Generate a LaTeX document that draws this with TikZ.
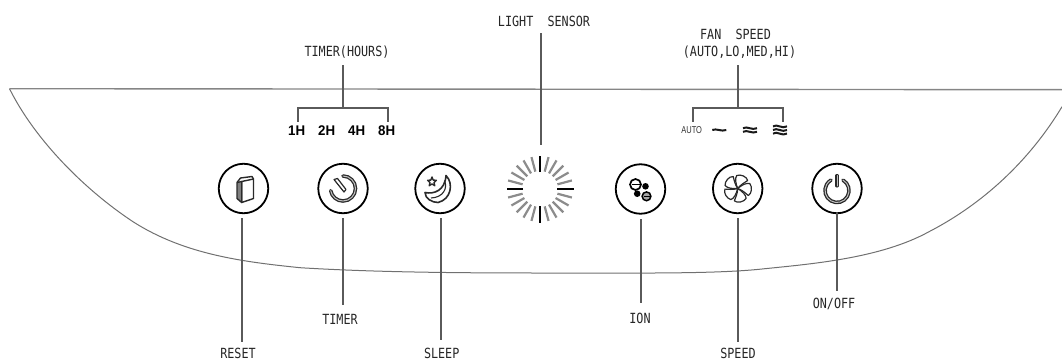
\documentclass[tikz,border=0pt]{standalone}
\usepackage{fontspec}
\setmainfont{Liberation Sans}
\newfontfamily\labelfont[FakeStretch=0.84]{DejaVu Sans Mono}
\newfontfamily\hourfont[FakeStretch=0.95]{Liberation Sans}
\newfontfamily\autofont[FakeStretch=0.75]{Liberation Sans}
\usetikzlibrary{calc}
\definecolor{leadgray}{HTML}{5A5A5A}
\definecolor{panelgray}{HTML}{707070}
\definecolor{icongray}{HTML}{2A2A2A}
\tikzset{
  panelline/.style={draw=panelgray,line width=1pt},
  topline/.style={draw=panelgray!85,line width=1.4pt},
  leader/.style={draw=leadgray,line width=1.5pt},
  btn/.style={circle,draw=black,line width=1.8pt,minimum size=49.5pt,inner sep=0pt,outer sep=0pt},
  lbl/.style={inner sep=0pt,outer sep=0pt,text=black!85,font=\labelfont\fontsize{14}{16}\selectfont},
  hour/.style={inner sep=0pt,outer sep=0pt,text=black,font=\hourfont\bfseries\fontsize{14}{16}\selectfont},
  icon/.style={draw=icongray,line width=1.2pt,line join=round},
  dbl/.style={draw=icongray,line width=1.3pt,double=black!25,double distance=1pt,line cap=round},
  wave/.style={draw=black!90,line width=2pt},
  ray/.style={draw=black!45,line width=2.2pt},
  mainray/.style={draw=black,line width=1.8pt}
}
\begin{document}
\begin{tikzpicture}[x=1pt,y=-1pt]
\useasboundingbox (0,0) rectangle (1062,361);
% panel
\draw[topline] (1062,89.7) -- (9.5,88.7);
\draw[panelline,line join=round] (9.5,88.7)
  .. controls (35,140) and (85,190) .. (133,221.7)
  .. controls (185,255) and (245,262) .. (300,267.7)
  .. controls (370,272) and (450,273) .. (540,273)
  .. controls (640,273) and (715,274) .. (762,269)
  .. controls (810,264) and (880,258.7) .. (929,231.7)
  .. controls (975,208) and (1025,168) .. (1062,106.7);
% buttons
\node[btn] (reset) at (243.5,188.5) {};
\node[btn] (timer) at (343,188.5) {};
\node[btn] (sleep) at (440,188.5) {};
\node[btn] (ion) at (640.5,189) {};
\node[btn] (speed) at (737.7,188.5) {};
\node[btn] (onoff) at (837,188.5) {};
% sun
\coordinate (sun) at (540,189);
\foreach \a in {15,30,45,60,75,105,120,135,150,165,195,210,225,240,255,285,300,315,330,345}
  \draw[ray] ($(sun)+(\a:18pt)$) -- ($(sun)+(\a:33pt)$);
\foreach \a in {0,90,180,270}
  \draw[mainray] ($(sun)+(\a:17pt)$) -- ($(sun)+(\a:33.5pt)$);
% top labels
\node[lbl] (lighttxt) at (544,21.5) {LIGHT~~SENSOR};
\node[lbl] (fantxt) at (735.5,34) {FAN~~SPEED};
\node[lbl] (fanmodes) at (739.5,52.5) {(AUTO,LO,MED,HI)};
\node[lbl] (timerhours) at (347,52.5) {TIMER(HOURS)};
% hours
\node[hour] (h1) at (296.7,130.7) {1H};
\node[hour] (h2) at (326.7,130.7) {2H};
\node[hour] (h4) at (356.7,130.7) {4H};
\node[hour] (h8) at (386.7,130.7) {8H};
% fan modes
\node[inner sep=0pt,text=black!80,font=\autofont\fontsize{10}{11}\selectfont] (auto) at (691.7,129.7) {AUTO};
\coordinate (w1) at (719.3,130);
\coordinate (w2) at (750,130);
\coordinate (w3) at (780,130);
\begin{scope}[shift={(w1)},y=1pt]
  \draw[wave] (-7,0) .. controls (-3,2) and (2,-2) .. (7,0);
\end{scope}
\begin{scope}[shift={(w2)},y=1pt]
  \foreach \d in {-1.8,1.8}
    \draw[wave] (-7,\d) .. controls (-3,{\d+2.5}) and (2,{\d-2.5}) .. (7,\d);
\end{scope}
\begin{scope}[shift={(w3)},y=1pt]
  \foreach \d in {-3.6,0,3.6}
    \draw[wave] (-7,\d) .. controls (-3,{\d+3}) and (2,{\d-3}) .. (7,\d);
\end{scope}
% bottom labels
\node[lbl] (resettxt) at (238,353) {RESET};
\node[lbl] (timertxt) at (340,319) {TIMER};
\node[lbl] (sleeptxt) at (441.7,353) {SLEEP};
\node[lbl] (iontxt) at (640,318) {ION};
\node[lbl] (speedtxt) at (738,353) {SPEED};
\node[lbl] (onofftxt) at (834,304) {ON/OFF};
% free ends
\coordinate (e1) at (242,342);
\coordinate (s1) at (242,218);
\coordinate (e2) at (343,305);
\coordinate (s2) at (343,218);
\coordinate (e3) at (441,340);
\coordinate (s3) at (441,218);
\coordinate (e4) at (641,303);
\coordinate (s4) at (641,219);
\coordinate (e5) at (738,342);
\coordinate (s5) at (738,218);
\coordinate (e6) at (837,291);
% connectors
\draw[leader] (s1) -- (e1);
\draw[leader] (s2) -- (e2);
\draw[leader] (s3) -- (e3);
\draw[leader] (s4) -- (e4);
\draw[leader] (s5) -- (e5);
\draw[leader] (onoff.south) -- (e6);
\coordinate (ls) at (541,33.4);
\coordinate (le) at (541,145);
\draw[leader] (ls) -- (le);
\coordinate (ts) at (343,65.5);
\coordinate (tm) at (343,108);
\coordinate (tl) at (298,121.6);
\coordinate (tr) at (388,121.6);
\draw[leader] (ts) -- (tm);
\draw[leader] (tl) |- (tm) -| (tr);
\coordinate (fs) at (738,65.5);
\coordinate (fm) at (738,108);
\coordinate (fl) at (693,121.6);
\coordinate (fr) at (783,121.6);
\draw[leader] (fs) -- (fm);
\draw[leader] (fl) |- (fm) -| (fr);
% reset icon
\begin{scope}[shift={(reset)},y=1pt]
  \draw[icon,line width=1.4pt] (-6.5,6) -- (-3,10.5) -- (8.5,12) -- (10,9.5);
  \draw[icon,line width=1.4pt,fill=white] (-1.8,7) -- (10,9.5) -- (10,-10) -- (-1.8,-14) -- cycle;
  \draw[icon,line width=1.4pt,fill=icongray!60] (-6.5,6) -- (-1.8,7) -- (-1.8,-14) -- (-6.5,-10) -- cycle;
\end{scope}
% timer icon
\begin{scope}[shift={(timer)},y=1pt]
  \draw[dbl] (0,12.5) arc[start angle=90,end angle=-170,radius=12.5pt];
  \draw[icon,fill=white] (-9,9) -- (-5.5,10) -- (3,-1) -- (1,-3.5) -- cycle;
\end{scope}
% sleep icon
\begin{scope}[shift={(sleep)},y=1pt]
  \draw[icon,line width=1.6pt,fill=white] (6,13) .. controls (14,5) and (11,-11) .. (-2,-14) .. controls (-8,-14) and (-15,-10) .. (-15,-4) .. controls (-6,-6) and (5,-2) .. (6,13) -- cycle;
  \draw[icon,line width=1.1pt] (4.5,8) .. controls (8,0) and (3,-9) .. (-9,-9.5);
  \draw[icon,line width=1.4pt] (-8,11.5) -- (-9.2,8.4) -- (-12.4,8.2) -- (-10,6) -- (-10.8,2.8) -- (-8,4.5) -- (-5.2,2.8) -- (-6,6) -- (-3.6,8.2) -- (-6.8,8.4) -- cycle;
\end{scope}
% ion icon
\begin{scope}[shift={(ion)},y=1pt]
  \fill[black] (5,2.7) circle[radius=3.3pt];
  \fill[black] (-3.3,-4.7) circle[radius=3.3pt];
  \draw[line width=1.7pt,fill=white] (-5,4.5) circle[radius=5.5pt];
  \draw[line width=1.4pt] (-9,4.5) -- (-1,4.5);
  \draw[line width=1.5pt,fill=black!35] (6,-7.3) circle[radius=4.4pt];
  \draw[line width=1.3pt] (3,-7.3) -- (9,-7.3);
\end{scope}
% fan icon
\begin{scope}[shift={(speed)},y=1pt]
  \foreach \r in {0,72,144,216,288}
    \draw[icon,rotate=\r,fill=white] (0,0) .. controls (-2,5) and (-3,10) .. (-1,13) .. controls (3,14.5) and (9,12) .. (10,8) .. controls (7,6) and (3,4) .. (0,0) -- cycle;
  \fill[icongray] (0,0) circle[radius=0.9pt];
\end{scope}
% power icon
\begin{scope}[shift={(onoff)},y=1pt]
  \draw[dbl] (6,8.4) arc[start angle=60,end angle=-240,radius=12pt];
  \draw[dbl,line width=1.1pt,double distance=0.9pt] (0,2.5) -- (0,13);
\end{scope}
\end{tikzpicture}
\end{document}
